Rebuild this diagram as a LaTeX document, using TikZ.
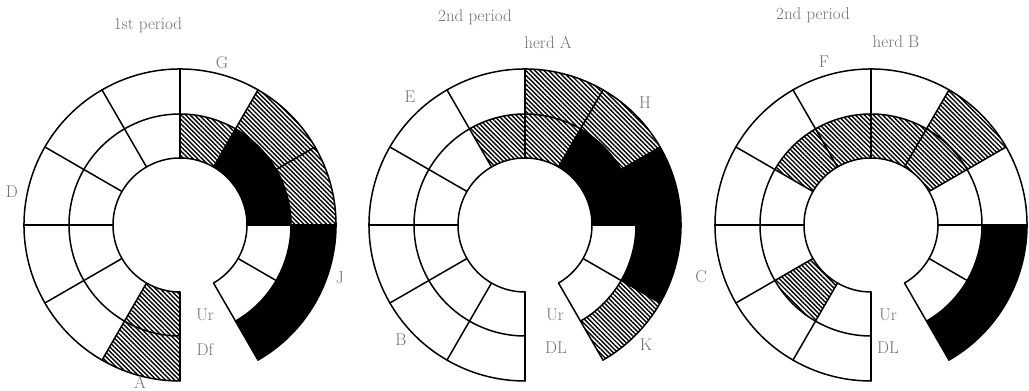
\documentclass[tikz,border=0pt]{standalone}
\usetikzlibrary{patterns.meta}
\newcommand\ringcell[5]{\fill[#5] (#1:#3) arc[start angle=#1,end angle=#2,radius=#3] -- (#2:#4) arc[start angle=#2,end angle=#1,radius=#4] -- cycle;}
\newcommand\incell[3]{\ringcell{#1}{#2}{67}{111}{#3}}
\newcommand\outcell[3]{\ringcell{#1}{#2}{111}{156}{#3}}
\newcommand\ringgrid{%
  \draw[gridline] (-60:67) arc[start angle=-60,end angle=270,radius=67];
  \draw[gridline] (-60:111) arc[start angle=-60,end angle=270,radius=111];
  \draw[gridline] (-60:156) arc[start angle=-60,end angle=270,radius=156];
  \foreach \a in {-60,-30,...,270} {\draw[gridline] (\a:67) -- (\a:156);}
}
\begin{document}
\begin{tikzpicture}[x=1pt,y=1pt,
  gridline/.style={line width=1.5pt, line join=round, line cap=round},
  hatch/.style={pattern={Lines[angle=-45,distance=3.2pt,line width=1.4pt]}},
  blk/.style={fill=black},
  lbl/.style={text=black!55, font=\fontsize{17}{19}\selectfont, inner sep=0pt}]
\useasboundingbox[fill=white] (0,0) rectangle (1029,391);

% ---------- diagram 1 ----------
\begin{scope}[shift={(180,166)}]
  \incell{60}{90}{hatch}
  \incell{30}{60}{blk}
  \incell{0}{30}{blk}
  \outcell{30}{60}{hatch}
  \outcell{0}{30}{hatch}
  \outcell{-30}{0}{blk}
  \outcell{-60}{-30}{blk}
  \incell{240}{270}{hatch}
  \outcell{240}{270}{hatch}
  \ringgrid
\end{scope}
\node[lbl] (t1) at (148,366) {1st period};
\node[lbl] (g1) at (222,328) {G};
\node[lbl] (d1) at (12,199) {D};
\node[lbl] (j1) at (340,113) {J};
\node[lbl] (ur1) at (205,76) {Ur};
\node[lbl] (df1) at (205,41) {Df};
\node[lbl] (a1) at (140,9) {A};

% ---------- diagram 2 ----------
\begin{scope}[shift={(525,166)}]
  \outcell{60}{90}{hatch}
  \incell{60}{90}{hatch}
  \incell{90}{120}{hatch}
  \outcell{30}{60}{hatch}
  \incell{30}{60}{blk}
  \incell{0}{30}{blk}
  \outcell{0}{30}{blk}
  \outcell{-30}{0}{blk}
  \outcell{-60}{-30}{hatch}
  \ringgrid
\end{scope}
\node[lbl] (t2) at (475,374) {2nd period};
\node[lbl] (h2) at (548,348) {herd A};
\node[lbl] (e2) at (410,294) {E};
\node[lbl] (hh2) at (645,288) {H};
\node[lbl] (b2) at (401,51) {B};
\node[lbl] (ur2) at (555,76) {Ur};
\node[lbl] (dl2) at (556,43) {DL};
\node[lbl] (k2) at (646,46) {K};

% ---------- diagram 3 ----------
\begin{scope}[shift={(871,166)}]
  \incell{30}{60}{hatch}
  \incell{60}{90}{hatch}
  \incell{90}{120}{hatch}
  \incell{120}{150}{hatch}
  \outcell{30}{60}{hatch}
  \outcell{-30}{0}{blk}
  \outcell{-60}{-30}{blk}
  \incell{210}{240}{hatch}
  \ringgrid
\end{scope}
\node[lbl] (t3) at (813,376) {2nd period};
\node[lbl] (h3) at (896,349) {herd B};
\node[lbl] (f3) at (824,329) {F};
\node[lbl] (c3) at (701,114) {C};
\node[lbl] (ur3) at (888,76) {Ur};
\node[lbl] (dl3) at (888,43) {DL};
\end{tikzpicture}
\end{document}
